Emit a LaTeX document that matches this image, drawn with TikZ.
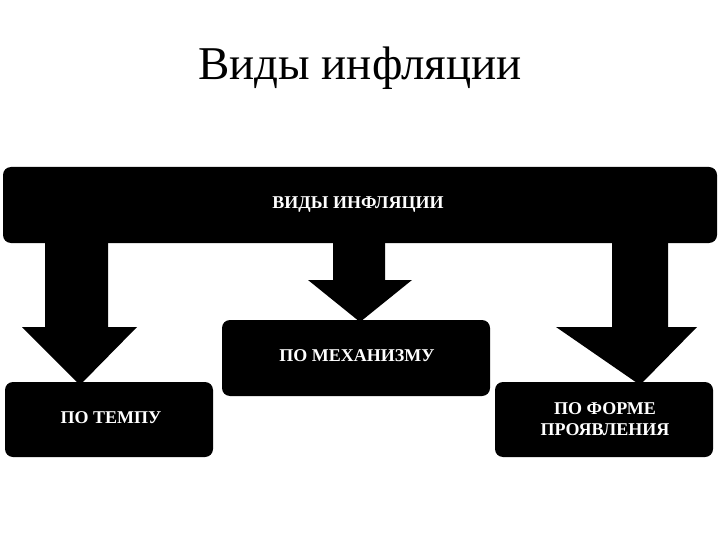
\documentclass[tikz,border=0pt]{standalone}
\usepackage{fontspec}
\setmainfont{Liberation Serif}
\begin{document}
\begin{tikzpicture}[x=1pt,y=-1pt,
  blk/.style={fill=black,rounded corners=8pt},
  lbl/.style={text=white,font=\bfseries\fontsize{18}{21}\selectfont,align=center},
  arr/.style={fill=black}]
\useasboundingbox (0,0) rectangle (720,540);
\node[font=\fontsize{47}{52}\selectfont] (title) at (360,68) {Виды инфляции};
% arrows
\fill[arr] (45,240) -- (108,240) -- (108,327) -- (137,327) -- (80,385) -- (22,327) -- (45,327) -- cycle;
\fill[arr] (333,240) -- (385,240) -- (385,280) -- (412,280) -- (360,322) -- (308,280) -- (333,280) -- cycle;
\fill[arr] (612,240) -- (668,240) -- (668,327) -- (697,327) -- (640,385) -- (556,327) -- (612,327) -- cycle;
% boxes
\fill[blk] (3,167) rectangle (717,243);
\node[lbl] (top) at (358,205) {ВИДЫ ИНФЛЯЦИИ};
\fill[blk] (222,320) rectangle (490,396);
\node[lbl] (mid) at (357,356) {ПО МЕХАНИЗМУ};
\fill[blk] (5,382) rectangle (213,457);
\node[lbl] (left) at (111,418) {ПО ТЕМПУ};
\fill[blk] (495,382) rectangle (713,457);
\node[lbl] (right) at (605,419) {ПО ФОРМЕ\\ПРОЯВЛЕНИЯ};
\end{tikzpicture}
\end{document}
